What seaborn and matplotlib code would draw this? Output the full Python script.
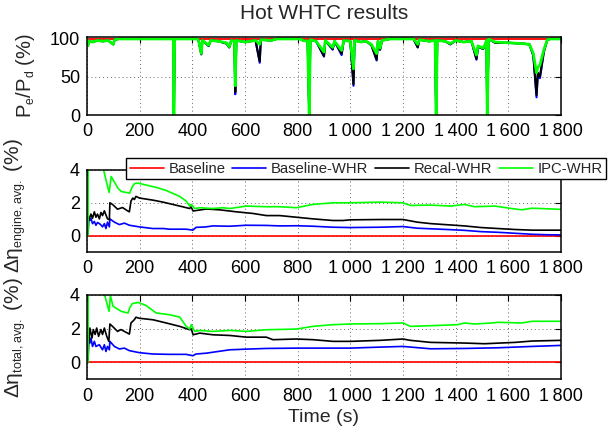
import matplotlib
matplotlib.use("Agg")
import matplotlib.pyplot as plt
import seaborn as sns
import pandas as pd
from matplotlib.ticker import FuncFormatter
from matplotlib.lines import Line2D

try:
    # smaller sub-scripts in the axis labels
    import matplotlib._mathtext as _mt
    _mt.SHRINK_FACTOR = 0.6
except Exception:
    pass

# ---------------- data ----------------
series_names = ["Baseline", "Baseline-WHR", "Recal-WHR", "IPC-WHR"]
series_colors = ["#ff0000", "#0000ff", "#000000", "#00ff00"]

# Power ratio Pe/Pd (%) over the cycle
t_ratio = [0, 3, 8, 20, 40, 60, 80, 100, 105, 120, 325, 328, 330, 333, 420, 425, 434, 438,
           462, 470, 500, 530, 540, 548, 560, 563, 567, 600, 640, 656, 660, 700, 720, 810,
           820, 838, 844, 848, 870, 900, 905, 933, 940, 967, 975, 1000, 1012, 1016, 1040,
           1060, 1080, 1100, 1105, 1113, 1120, 1150, 1240, 1256, 1262, 1300, 1322, 1326,
           1330, 1360, 1380, 1400, 1430, 1460, 1479, 1485, 1504, 1512, 1517, 1520, 1525,
           1550, 1600, 1650, 1680, 1695, 1707, 1712, 1720, 1735, 1748, 1760, 1800]
ratio_ipc = [99, 90, 96, 95, 97, 96, 97, 92, 98, 99, 99, 99, 0, 99, 99, 95, 80, 97,
             91, 97, 96, 94, 89, 97, 96, 38, 97, 95, 97, 92, 98, 97, 99, 99,
             97, 96, 0, 98, 96, 82, 97, 88, 96, 84, 97, 96, 60, 97, 95,
             96, 92, 80, 96, 87, 97, 99, 99, 92, 98, 96, 97, 0,
             97, 96, 93, 97, 95, 96, 78, 90, 87, 92, 97, 0, 99,
             95, 94, 93, 92, 80, 55, 62, 65, 85, 98, 99, 99]
ratio_recal = [99, 90, 96, 95, 97, 96, 97, 92, 98, 99, 99, 99, 0, 99, 99, 95, 79, 97,
               90, 97, 96, 93, 88, 97, 96, 30, 97, 95, 97, 70, 98, 97, 99, 99,
               97, 96, 0, 98, 96, 77, 97, 86, 96, 80, 97, 96, 40, 97, 95,
               96, 91, 72, 96, 85, 97, 99, 99, 88, 98, 96, 97, 0,
               97, 96, 92, 97, 95, 96, 73, 89, 86, 91, 96, 0, 99,
               94, 94, 93, 92, 78, 26, 55, 50, 83, 98, 99, 99]
ratio_base_whr = [99, 90, 96, 95, 97, 96, 97, 92, 98, 99, 99, 99, 0, 99, 99, 95, 79, 97,
                  90, 97, 96, 93, 88, 97, 96, 27, 97, 95, 97, 68, 98, 97, 99, 99,
                  97, 96, 0, 98, 96, 76, 97, 85, 96, 78, 97, 96, 38, 97, 95,
                  96, 91, 71, 96, 85, 97, 99, 99, 88, 98, 96, 97, 0,
                  97, 96, 92, 97, 95, 96, 72, 89, 86, 91, 96, 0, 99,
                  94, 94, 93, 92, 77, 23, 52, 48, 82, 98, 99, 99]
t_ratio_base = [0, 1800]
ratio_base = [99, 99]

# Running-average engine efficiency gain (%)
t_eng_base = [0, 1800]
eng_base = [0, 0]
t_eng_bwhr = [0, 4, 6, 11, 15, 21, 28, 34, 40, 47, 53, 59, 66, 72, 78, 85, 87, 104, 123,
              142, 161, 199, 250, 290, 313, 376, 390, 402, 414, 452, 478, 542, 605, 681,
              732, 795, 858, 934, 1000, 1113, 1200, 1254, 1369, 1433, 1497, 1561, 1626,
              1690, 1750, 1800]
eng_bwhr = [0, 0, 1.12, 0.92, 1.06, 0.73, 0.86, 0.63, 0.80, 0.73, 0.65, 0.53, 0.73, 0.43,
            0.82, 0.53, 1.02, 0.82, 0.67, 0.76, 0.63, 0.53, 0.43, 0.43, 0.39, 0.39, 0.36,
            0.33, 0.50, 0.53, 0.59, 0.57, 0.63, 0.62, 0.59, 0.60, 0.57, 0.51, 0.49, 0.51,
            0.55, 0.45, 0.37, 0.32, 0.24, 0.20, 0.14, 0.08, 0.05, 0.04]
t_eng_recal = [0, 4, 6, 15, 21, 28, 34, 40, 47, 53, 59, 66, 72, 78, 85, 87, 97, 116, 135,
               154, 161, 167, 174, 180, 186, 199, 251, 289, 352, 390, 395, 403, 453, 504,
               567, 630, 681, 732, 795, 858, 934, 972, 1000, 1113, 1200, 1254, 1305, 1433,
               1497, 1561, 1626, 1690, 1800]
eng_recal = [0, 0, 0.92, 1.31, 1.06, 1.45, 1.12, 1.31, 1.02, 1.41, 1.22, 1.51, 1.26, 1.02,
             0.96, 2.0, 1.9, 1.61, 1.71, 1.51, 1.45, 2.1, 2.29, 2.2, 2.39, 2.29, 2.16, 2.04,
             1.8, 1.65, 1.75, 1.5, 1.62, 1.57, 1.45, 1.35, 1.22, 1.22, 1.12, 1.02, 0.92,
             0.92, 0.96, 0.98, 0.98, 0.82, 0.73, 0.59, 0.49, 0.43, 0.37, 0.33, 0.33]
t_eng_ipc = [0, 4, 6, 30, 63, 84, 92, 118, 130, 162, 172, 181, 194, 225, 263, 301, 352,
             377, 390, 396, 409, 428, 478, 516, 542, 605, 681, 732, 795, 858, 934, 1000,
             1113, 1200, 1228, 1305, 1382, 1433, 1472, 1549, 1613, 1651, 1690, 1800]
eng_ipc = [0, 0, 12, 7, 4.0, 2.63, 3.6, 2.88, 2.69, 2.59, 2.98, 3.18, 3.2, 3.08, 2.94, 2.75,
           2.39, 2.1, 1.8, 1.9, 1.65, 1.7, 1.65, 1.7, 1.65, 1.8, 1.76, 1.76, 1.7, 1.9, 2.0,
           2.0, 2.04, 2.0, 1.84, 1.86, 1.8, 1.9, 1.76, 1.8, 1.65, 1.57, 1.67, 1.6]

# Running-average total efficiency gain (%)
t_tot_base = [0, 1800]
tot_base = [0, 0]
t_tot_bwhr = [0, 4, 6, 11, 15, 21, 28, 34, 47, 59, 66, 72, 78, 85, 87, 104, 123, 142, 161,
              199, 250, 313, 376, 402, 414, 453, 542, 605, 681, 795, 934, 1000, 1113, 1200,
              1305, 1433, 1561, 1690, 1800]
tot_bwhr = [0, 0, 1.6, 1.15, 1.45, 0.95, 1.25, 0.95, 1.05, 0.75, 1.05, 0.65, 0.95, 0.75,
            1.25, 0.95, 0.8, 0.85, 0.7, 0.58, 0.5, 0.48, 0.48, 0.4, 0.5, 0.55, 0.75, 0.79,
            0.83, 0.85, 0.85, 0.85, 0.91, 0.95, 0.81, 0.83, 0.87, 0.95, 1.01]
t_tot_recal = [0, 4, 6, 11, 19, 24, 31, 37, 44, 53, 59, 66, 75, 83, 87, 97, 116, 129, 154,
               161, 167, 180, 186, 199, 251, 301, 352, 390, 396, 403, 428, 478, 542, 605,
               681, 706, 795, 858, 934, 1000, 1113, 1200, 1228, 1305, 1433, 1510, 1626,
               1690, 1800]
tot_recal = [0, 0, 1.05, 2.04, 1.45, 1.95, 1.66, 2.04, 1.55, 1.95, 1.66, 2.04, 1.55, 1.25,
             2.28, 2.14, 1.84, 1.95, 1.74, 1.68, 2.34, 2.54, 2.68, 2.62, 2.53, 2.34, 2.14,
             1.94, 2.0, 1.64, 1.74, 1.64, 1.6, 1.5, 1.5, 1.35, 1.39, 1.35, 1.25, 1.25, 1.31,
             1.39, 1.31, 1.19, 1.15, 1.11, 1.19, 1.27, 1.31]
t_tot_ipc = [0, 4, 6, 30, 67, 84, 89, 99, 130, 156, 162, 172, 194, 225, 263, 314, 352, 377,
             390, 396, 409, 428, 478, 542, 605, 681, 795, 858, 934, 1000, 1113, 1200, 1228,
             1305, 1408, 1433, 1472, 1536, 1561, 1651, 1690, 1800]
tot_ipc = [0, 0, 12, 7, 4.0, 3.03, 3.96, 3.33, 3.03, 2.93, 3.23, 3.49, 3.56, 3.37, 2.93,
           2.83, 2.69, 2.14, 1.98, 2.24, 1.84, 1.9, 1.84, 1.9, 1.84, 1.94, 1.98, 2.14, 2.24,
           2.28, 2.3, 2.34, 2.14, 2.18, 2.24, 2.34, 2.28, 2.34, 2.38, 2.34, 2.44, 2.44]

x_ticks = list(range(0, 1801, 200))

# ---------------- style ----------------
sns.set_style("white")
plt.rcParams["font.family"] = ["Liberation Sans", "DejaVu Sans"]
plt.rcParams["mathtext.default"] = "regular"
plt.rcParams["mathtext.fontset"] = "custom"
plt.rcParams["mathtext.rm"] = "Liberation Sans"
plt.rcParams["axes.unicode_minus"] = False

fig = plt.figure(figsize=(6.16, 4.34), dpi=100)
fig.patch.set_facecolor("white")
ax1 = fig.add_axes([0.1412, 0.735, 0.7695, 0.1797])
ax2 = fig.add_axes([0.1412, 0.4194, 0.7695, 0.1889])
ax3 = fig.add_axes([0.1412, 0.1260, 0.7695, 0.1943])

thousands = FuncFormatter(lambda v, p: f"{int(v):,}".replace(",", "\u2009"))


def draw(ax, curves, widths):
    for (t, v), color, lw in zip(curves, series_colors, widths):
        sns.lineplot(x=t, y=v, ax=ax, color=color, linewidth=lw,
                     estimator=None, sort=False, legend=False)


draw(ax1, [(t_ratio_base, ratio_base), (t_ratio, ratio_base_whr),
           (t_ratio, ratio_recal), (t_ratio, ratio_ipc)], [1.3, 1.5, 1.5, 2.0])
draw(ax2, [(t_eng_base, eng_base), (t_eng_bwhr, eng_bwhr),
           (t_eng_recal, eng_recal), (t_eng_ipc, eng_ipc)], [1.2, 1.2, 1.2, 1.2])
draw(ax3, [(t_tot_base, tot_base), (t_tot_bwhr, tot_bwhr),
           (t_tot_recal, tot_recal), (t_tot_ipc, tot_ipc)], [1.2, 1.2, 1.2, 1.2])

for ax in (ax1, ax2, ax3):
    ax.set_xlim(0, 1800)
    ax.set_xticks(x_ticks)
    ax.xaxis.set_major_formatter(thousands)
    ax.tick_params(direction="in", length=4, width=0.8, top=True, right=True,
                   labelsize=13, colors="black")
    ax.tick_params(axis="x", pad=6)
    ax.tick_params(axis="y", pad=5)
    ax.grid(True, linestyle=(0, (1, 3)), color="#666666", linewidth=0.7)
    for s in ax.spines.values():
        s.set_color("black")
        s.set_linewidth(1.1)
    ax.set_xlabel("")

ax1.set_ylim(0, 101.5)
ax1.set_yticks([0, 50, 100])
ax2.set_ylim(-1, 4)
ax2.set_yticks([0, 2, 4])
ax3.set_ylim(-1, 4)
ax3.set_yticks([0, 2, 4])

ax1.set_title("Hot WHTC results", fontsize=15, pad=13)
ax1.set_ylabel("P$_{e}$/P$_{d}$ (%)", fontsize=14.5, labelpad=9)
ax2.set_ylabel("Δη$_{engine,avg.}$ (%)", fontsize=15, labelpad=7)
ax3.set_ylabel("Δη$_{total,avg.}$ (%)", fontsize=15, labelpad=7)
ax2.yaxis.set_label_coords(-0.125, 0.57)
ax3.yaxis.set_label_coords(-0.125, 0.5)
ax3.set_xlabel("Time (s)", fontsize=14, labelpad=3)

handles = [Line2D([], [], color=c, linewidth=1.2) for c in series_colors]
leg = fig.legend(handles, series_names, loc="upper left",
                 bbox_to_anchor=(126 / 616, 1 - 158 / 434), ncol=4, fontsize=10.7,
                 frameon=True, fancybox=False, edgecolor="black", framealpha=1,
                 borderpad=0.25, handlelength=2.3, handletextpad=0.3,
                 columnspacing=0.45, borderaxespad=0)
leg.get_frame().set_linewidth(1.0)

fig.savefig("out.png", dpi=100, facecolor="white")
